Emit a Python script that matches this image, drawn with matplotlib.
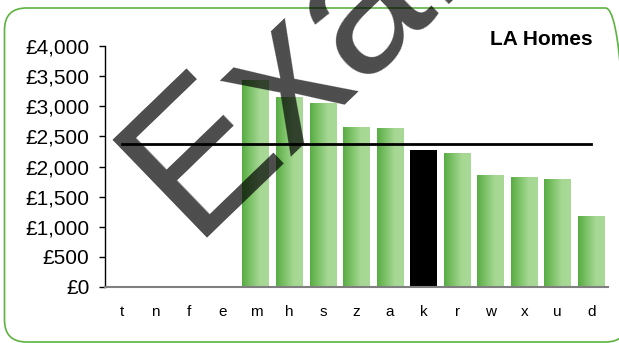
import numpy as np
import matplotlib
matplotlib.use("Agg")
import matplotlib.pyplot as plt
from matplotlib.colors import LinearSegmentedColormap
from matplotlib.patches import FancyBboxPatch
from matplotlib.transforms import IdentityTransform

plt.rcParams['font.family'] = ['Liberation Sans', 'DejaVu Sans']

# data
areas = ['t', 'n', 'f', 'e', 'm', 'h', 's', 'z', 'a', 'k', 'r', 'w', 'x', 'u', 'd']
values = [0, 0, 0, 0, 3440, 3160, 3050, 2660, 2640, 2270, 2230, 1860, 1820, 1800, 1180]
highlight = 'k'
average = 2375
y_ticks = [0, 500, 1000, 1500, 2000, 2500, 3000, 3500, 4000]
title = 'LA Homes'

green_grad = LinearSegmentedColormap.from_list('gg', ['#58ad44', '#7fc36b', '#a6d894', '#a8d997'])

fig = plt.figure(figsize=(6.19, 3.43), dpi=100)
ax = fig.add_axes([105 / 619, 56 / 343, 503 / 619, 241 / 343])

x = np.arange(len(areas))
bars = ax.bar(x, values, width=0.8, color='none', edgecolor='none', zorder=2)

# horizontal gradient inside each green bar
grad = np.linspace(0, 1, 64).reshape(1, -1)
for name, b in zip(areas, bars):
    h = b.get_height()
    if h <= 0:
        continue
    if name == highlight:
        b.set_facecolor('black')
        continue
    x0 = b.get_x()
    im = ax.imshow(grad, cmap=green_grad, aspect='auto',
                   extent=[x0, x0 + b.get_width(), 0, h], zorder=2)
    im.set_clip_path(b)

# average line
ax.plot([x[0], x[-1]], [average, average], color='black', lw=2, zorder=3)

ax.set_xlim(-0.5, len(areas) - 0.5)
ax.set_ylim(0, 4000)
ax.set_yticks(y_ticks)
ax.set_yticklabels([f'£{v:,}' for v in y_ticks], fontsize=15)
ax.set_xticks(x)
ax.set_xticklabels(areas, fontsize=11)
ax.tick_params(axis='y', length=4.3, width=1, pad=7, color='black')
ax.tick_params(axis='x', length=0, pad=13)

for s in ['top', 'right']:
    ax.spines[s].set_visible(False)
ax.spines['left'].set_color('black')
ax.spines['left'].set_linewidth(1)
ax.spines['bottom'].set_color('#7f7f7f')
ax.spines['bottom'].set_linewidth(1.5)
ax.set_facecolor('none')

fig.text(593 / 619, 298 / 343, title, ha='right', va='baseline',
         fontsize=15, fontweight='bold')

# rounded green frame in pixels (runs slightly past the right edge)
frame = FancyBboxPatch((4.5, 1.0), 623, 334,
                       boxstyle='round,pad=0,rounding_size=22',
                       transform=IdentityTransform(), facecolor='none',
                       edgecolor='#5db33f', lw=1.2, zorder=0)
fig.patches.append(frame)

# watermark stamp
fig.text(191.8 / 619, 105.2 / 343, 'Example', rotation=44, rotation_mode='anchor',
         ha='left', va='baseline', fontsize=142, color='black', alpha=0.7,
         zorder=10)

fig.savefig('out.png', dpi=100)
